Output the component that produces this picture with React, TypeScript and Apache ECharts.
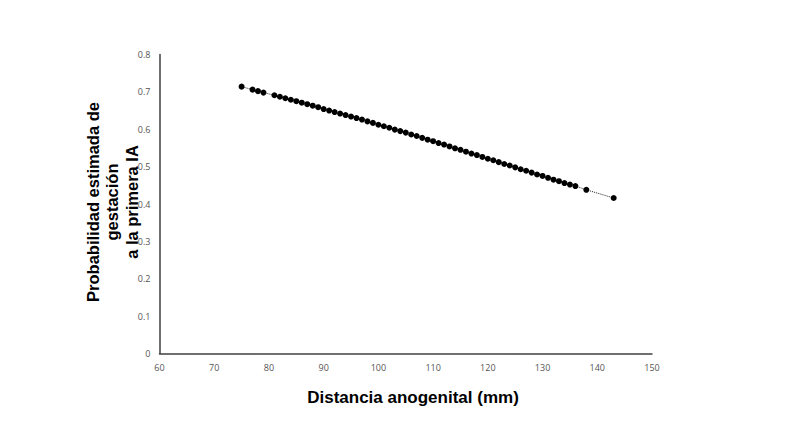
import React, { useEffect, useRef } from "react";
import * as echarts from "echarts";

const xValues = [75, 77, 78, 79, 81, 82, 83, 84, 85, 86, 87, 88, 89, 90, 91, 92, 93, 94, 95, 96, 97, 98, 99, 100, 101, 102, 103, 104, 105, 106, 107, 108, 109, 110, 111, 112, 113, 114, 115, 116, 117, 118, 119, 120, 121, 122, 123, 124, 125, 126, 127, 128, 129, 130, 131, 132, 133, 134, 135, 136, 138, 143];
const yValues = [0.714, 0.706, 0.702, 0.698, 0.691, 0.687, 0.683, 0.679, 0.675, 0.671, 0.667, 0.663, 0.659, 0.654, 0.650, 0.646, 0.642, 0.638, 0.634, 0.630, 0.626, 0.621, 0.617, 0.612, 0.608, 0.604, 0.599, 0.595, 0.591, 0.586, 0.582, 0.577, 0.572, 0.568, 0.563, 0.559, 0.554, 0.549, 0.545, 0.540, 0.535, 0.531, 0.526, 0.521, 0.517, 0.512, 0.507, 0.503, 0.498, 0.493, 0.489, 0.484, 0.479, 0.475, 0.470, 0.465, 0.461, 0.456, 0.452, 0.448, 0.438, 0.416];

const xTitle = "Distancia anogenital (mm)";
const yTitleLines = ["Probabilidad estimada de", "gestación", "a la primera IA"];

export default function App() {
  const ref = useRef<HTMLDivElement>(null);
  useEffect(() => {
    if (!ref.current) return;
    const chart = echarts.init(ref.current, null, { renderer: "svg" });
    const data = xValues.map((x, i) => [x, yValues[i]]);
    chart.setOption({
      animation: false,
      backgroundColor: "#ffffff",
      grid: { left: 159.5, right: 148, top: 54.5, bottom: 92.5, containLabel: false },
      xAxis: {
        type: "value",
        min: 60,
        max: 150,
        interval: 10,
        axisLine: { show: true, lineStyle: { color: "#404040", width: 1.5 } },
        axisTick: { show: false },
        splitLine: { show: false },
        axisLabel: { color: "#555", fontSize: 9, margin: 9, fontFamily: "Open Sans" },
      },
      yAxis: {
        type: "value",
        min: 0,
        max: 0.8,
        interval: 0.1,
        axisLine: { show: true, lineStyle: { color: "#404040", width: 1.5 } },
        axisTick: { show: false },
        splitLine: { show: false },
        axisLabel: { color: "#555", fontSize: 9, margin: 9, fontFamily: "Open Sans" },
      },
      graphic: [
        {
          type: "text",
          x: 413,
          y: 397,
          style: {
            text: xTitle,
            font: "bold 17px 'Liberation Sans', Arial, sans-serif",
            fill: "#000",
            textAlign: "center",
            textVerticalAlign: "middle",
          },
        },
        {
          type: "text",
          x: 112,
          y: 202,
          rotation: Math.PI / 2,
          style: {
            text: yTitleLines.join("\n"),
            font: "bold 16.5px 'Liberation Sans', Arial, sans-serif",
            lineHeight: 19.5,
            fill: "#000",
            textAlign: "center",
            textVerticalAlign: "middle",
          },
        },
      ],
      series: [
        {
          type: "line",
          data,
          symbol: "circle",
          symbolSize: 6,
          showSymbol: true,
          itemStyle: { color: "#000" },
          lineStyle: { color: "#222", width: 1, type: "dotted" },
        },
      ],
    });
    return () => chart.dispose();
  }, []);
  return (
    <div
      ref={ref}
      style={{ position: "fixed", left: 0, top: 0, width: 800, height: 446, background: "#fff" }}
    />
  );
}
